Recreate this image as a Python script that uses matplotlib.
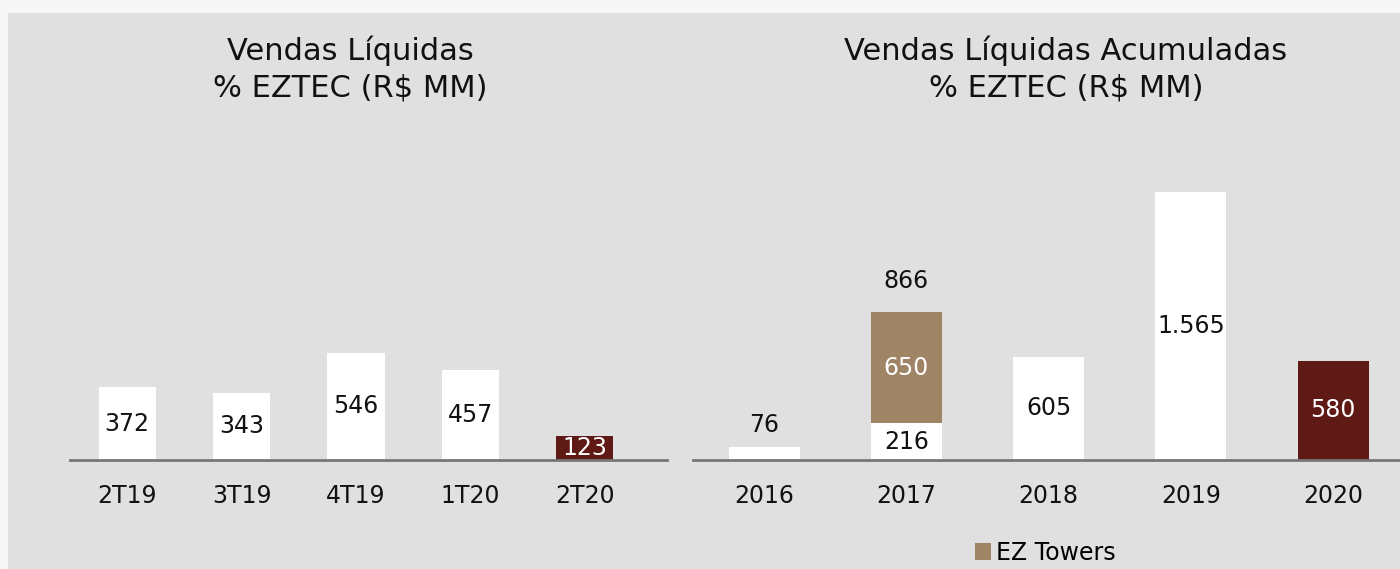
import matplotlib.pyplot as plt

# left panel: quarterly net sales
quarters = ["2T19", "3T19", "4T19", "1T20", "2T20"]
quarter_sales = [372, 343, 546, 457, 123]

# right panel: accumulated net sales per year
years = ["2016", "2017", "2018", "2019", "2020"]
year_sales = [76, 216, 605, 1565, 580]
ez_towers = [0, 650, 0, 0, 0]
year_labels = ["76", "216", "605", "1.565", "580"]

WHITE = "#ffffff"
BROWN = "#a08466"
DARK = "#5f1a15"
BG = "#e0e0e0"

plt.rcParams["font.family"] = ["DejaVu Sans"]

W, H = 1400, 569
fig = plt.figure(figsize=(14, 5.69), dpi=100)
fig.patch.set_facecolor("#f7f7f7")

# grey panel behind everything
bg = fig.add_axes([8 / W, 0, 1 - 8 / W, 1 - 13 / H], zorder=-10)
bg.set_facecolor(BG)
bg.set_xticks([])
bg.set_yticks([])
for s in bg.spines.values():
    s.set_visible(False)


def px_axes(x0, x1, y_top, y_base):
    return fig.add_axes([x0 / W, 1 - y_base / H, (x1 - x0) / W, (y_base - y_top) / H])


def style(ax):
    ax.set_facecolor("none")
    for s in ["top", "right", "left"]:
        ax.spines[s].set_visible(False)
    ax.spines["bottom"].set_color("#777777")
    ax.spines["bottom"].set_linewidth(2)
    ax.set_yticks([])
    ax.tick_params(axis="x", length=0, pad=17, labelsize=17, colors="#111111")


# left chart
ax1 = px_axes(70, 667, 150, 460)
style(ax1)
colors1 = [WHITE] * 4 + [DARK]
ax1.bar(range(5), quarter_sales, width=0.5, color=colors1)
for i, v in enumerate(quarter_sales):
    ax1.text(i, v / 2, str(v), ha="center", va="center", fontsize=17,
             color="white" if colors1[i] == DARK else "#111111")
ax1.set_xticks(range(5))
ax1.set_xticklabels(quarters)
ax1.set_xlim(-0.5, 4.72)
ax1.set_ylim(0, 310 * 5.1)

# right chart
ax2 = px_axes(693, 1400, 150, 460)
style(ax2)
colors2 = [WHITE] * 4 + [DARK]
ax2.bar(range(5), year_sales, width=0.5, color=colors2)
towers = ax2.bar(range(5), ez_towers, width=0.5, bottom=year_sales, color=BROWN)
for i, v in enumerate(year_sales):
    if i == 0:
        ax2.text(i, v + 60, year_labels[i], ha="center", va="bottom", fontsize=17, color="#111111")
    else:
        ax2.text(i, v / 2, year_labels[i], ha="center", va="center", fontsize=17,
                 color="white" if colors2[i] == DARK else "#111111")
ax2.text(1, year_sales[1] + ez_towers[1] / 2, str(ez_towers[1]), ha="center", va="center",
         fontsize=17, color="white")
total_2017 = year_sales[1] + ez_towers[1]
ax2.text(1, total_2017 + 110, str(total_2017), ha="center", va="bottom", fontsize=17, color="#111111")
ax2.set_xticks(range(5))
ax2.set_xticklabels(years)
ax2.set_xlim(-0.5, 4.47)
ax2.set_ylim(0, 310 * 5.85)
ax2.legend(handles=[towers[1]], labels=["EZ Towers"], loc="center",
           bbox_to_anchor=(1045 / W, 1 - 553 / H), bbox_transform=fig.transFigure,
           frameon=False, fontsize=17, handlelength=0.7, handleheight=0.7, handletextpad=0.2)

# titles
fig.text(350 / W, 1 - 69 / H, "Vendas Líquidas\n% EZTEC (R$ MM)", ha="center", va="center",
         fontsize=22, color="#111111", linespacing=1.3)
fig.text(1066 / W, 1 - 69 / H, "Vendas Líquidas Acumuladas\n% EZTEC (R$ MM)", ha="center",
         va="center", fontsize=22, color="#111111", linespacing=1.3)

fig.savefig("out.png", dpi=100, facecolor=fig.get_facecolor())
